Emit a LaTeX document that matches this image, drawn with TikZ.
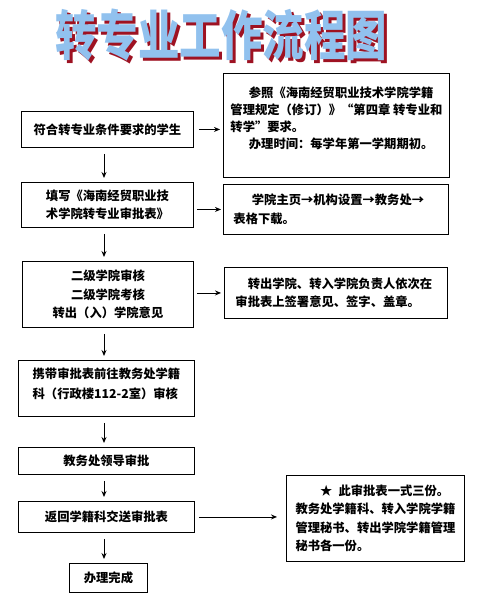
\documentclass[tikz,border=0pt]{standalone}
\usepackage{fontspec}
\setmainfont{Noto Sans CJK SC}
\usetikzlibrary{arrows.meta, positioning, calc}
\definecolor{titleblue}{RGB}{145,193,238}
\definecolor{titleshade}{RGB}{158,18,34}

\begin{document}
\begin{tikzpicture}[x=1pt, y=-1pt,
  stepbox/.style={rectangle, draw=black, line width=0.9pt, align=center, anchor=north west, inner sep=3pt,
    font=\fontsize{12.3}{18.5}\selectfont\bfseries},
  notebox/.style={stepbox, align=left},
  flow/.style={-{Stealth[length=6pt, width=5pt]}, line width=0.9pt},
  titletext/.style={font=\fontsize{41.5}{42}\selectfont\bfseries, inner sep=0pt, transform shape}]
  \useasboundingbox (0,0) rectangle (479,597);
  % title with its shadow
  \begin{scope}[shift={(224,38)}, yscale=1.3]
    \node[titletext, text=titleshade] (titleshadow) at (0,0) {转专业工作流程图};
  \end{scope}
  \begin{scope}[shift={(221,35)}, yscale=1.3]
    \node[titletext, text=titleblue] (title) at (0,0) {转专业工作流程图};
  \end{scope}

  % main steps
  \node[stepbox, minimum width=172, minimum height=36] (apply) at (21,111) {符合转专业条件要求的学生};
  \node[notebox, minimum width=172, minimum height=45] (form) at (21,182) {
    填写《海南经贸职业技\\
    术学院转专业审批表》};
  \node[stepbox, minimum width=171, minimum height=66] (college) at (22,261) {
    二级学院审核\\
    二级学院考核\\
    转出（入）学院意见};
  \node[notebox, minimum width=176, minimum height=56, font=\fontsize{12.3}{20}\selectfont\bfseries] (registry) at (18,360) {
    携带审批表前往教务处学籍\\
    科（行政楼112-2室）审核\\[-10pt]};
  \node[stepbox, minimum width=176, minimum height=27] (office) at (18,447) {教务处领导审批};
  \node[stepbox, minimum width=176, minimum height=31] (submit) at (18,501) {返回学籍科交送审批表};
  \node[stepbox, minimum width=78, minimum height=29] (done) at (69,563) {办理完成};

  % notes on the right
  \node[notebox, minimum width=226, minimum height=104, font=\fontsize{12.3}{17}\selectfont\bfseries] (rules) at (223,73) {
    \hspace*{1.5em}参照《海南经贸职业技术学院学籍\\
    管理规定（修订）》“第四章\ 转专业和\\
    转学”要求。\\
    \hspace*{1.5em}办理时间：每学年第一学期期初。\\[-2pt]};
  \node[notebox, minimum width=225, minimum height=50, inner xsep=10pt, text width=205] (download) at (223,184) {
    \hspace*{1.5em}学院主页→机构设置→教务处→\\
    表格下载。};
  \node[notebox, minimum width=223, minimum height=51, inner xsep=11pt, text width=201] (signing) at (224,267) {
    \hspace*{1em}转出学院、转入学院负责人依次在\\
    审批表上签署意见、签字、盖章。};
  \node[notebox, minimum width=178, minimum height=86] (copies) at (286,475) {
    \hspace*{2em}★\hspace{0.5em}此审批表一式三份。\\
    教务处学籍科、转入学院学籍\\
    管理秘书、转出学院学籍管理\\
    秘书各一份。};

  % arrows
  \coordinate (spine) at (104,0);
  \foreach \from/\to in {apply/form, form/college, college/registry, registry/office, office/submit, submit/done}
    \draw[flow, shorten <=6pt, shorten >=4pt] (\from.south -| spine) -- (\to.north -| spine);
  \draw[flow, shorten <=5pt, shorten >=3pt] (apply.east) -- (apply.east -| rules.west);
  \draw[flow, shorten <=3pt, shorten >=2pt] (download.west -| form.east) -- (download.west);
  \draw[flow, shorten <=3pt, shorten >=3pt] (signing.west -| college.east) -- (signing.west);
  \draw[flow, shorten <=4pt, shorten >=9pt] (submit.east) -- (submit.east -| copies.west);
\end{tikzpicture}
\end{document}
